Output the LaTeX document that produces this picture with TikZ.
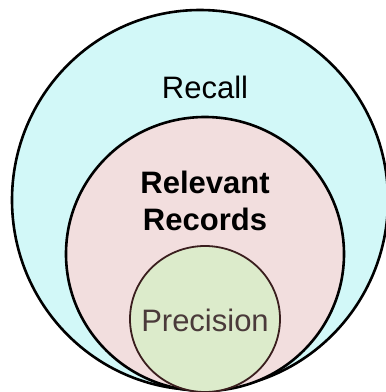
\documentclass[tikz,border=0pt]{standalone}
\usepackage{fontspec}
\setmainfont{Liberation Sans}
\definecolor{outerfill}{HTML}{D2F8F8}
\definecolor{midfill}{HTML}{F2DEDE}
\definecolor{innerfill}{HTML}{DCEBCB}
\definecolor{innerline}{HTML}{3A1E1E}
\definecolor{prectext}{HTML}{4A3A3A}
\begin{document}
\begin{tikzpicture}[x=1pt,y=-1pt,
  ring/.style={draw=black,line width=2.6pt},
  lbl/.style={font=\fontsize{31}{36}\selectfont,inner sep=0pt,anchor=base}]
\useasboundingbox (0,0) rectangle (386,392);
\begin{scope}
\clip (0,0) rectangle (386,392);
\path[ring,fill=outerfill] (200,200) ellipse [x radius=188,y radius=190];
\path[ring,fill=midfill] (205,254) ellipse [x radius=139,y radius=137];
\path[draw=innerline,line width=1.8pt,fill=innerfill] (205,319) ellipse [x radius=75,y radius=73];
\end{scope}
\node[lbl] (recall) at (205,98) {Recall};
\node[lbl,font=\fontsize{31}{36}\selectfont\bfseries] (rel1) at (205,193) {Relevant};
\node[lbl,font=\fontsize{31}{36}\selectfont\bfseries] (rel2) at (205,230) {Records};
\node[lbl,text=prectext] (prec) at (205,331) {Precision};
\end{tikzpicture}
\end{document}
